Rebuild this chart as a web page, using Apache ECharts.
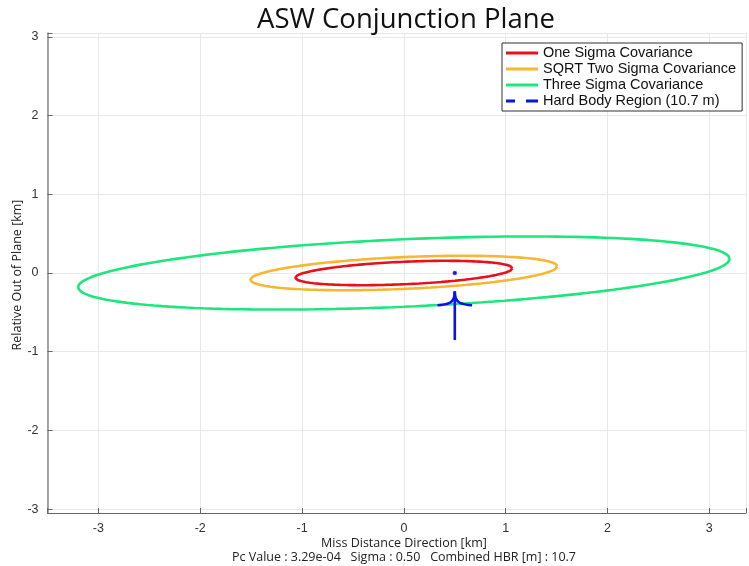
<!DOCTYPE html>
<html>
<head>
<meta charset="utf-8">
<script src="https://cdn.jsdelivr.net/npm/echarts@6/dist/echarts.min.js"></script>
<style>
html,body{margin:0;padding:0;background:#fff;}
#chart{width:749px;height:566px;}
</style>
</head>
<body>
<div id="chart"></div>
<script>
// ---- data ----
const seriesNames = ['One Sigma Covariance', 'SQRT Two Sigma Covariance', 'Three Sigma Covariance', 'Hard Body Region (10.7 m)'];
const sigmaScales = [1, 1.4142, 3];              // one, sqrt(2), three sigma
const covarianceKm2 = [1.137, 0.064, 0.024];      // [Cxx, Cxy, Cyy] in km^2
const ellipseCenterKm = [0, 0];
const hbrCenterKm = [0.5, 0];
const hbrRadiusKm = [0.0107];
const arrowShaftX = [0.5, 0.5];
const arrowShaftY = [-0.85, -0.235];
const arrowHeadLeftX = [0.5, 0.49, 0.45, 0.33];
const arrowHeadLeftY = [-0.235, -0.32, -0.38, -0.41];
const arrowHeadRightX = [0.5, 0.51, 0.55, 0.67];
const arrowHeadRightY = [-0.235, -0.32, -0.38, -0.41];
const xTickLabels = [-3, -2, -1, 0, 1, 2, 3];
const yTickLabels = [-3, -2, -1, 0, 1, 2, 3];
const colors = ['#e8111b', '#f7b733', '#1fe67c', '#0a14e6'];
const titleText = 'ASW Conjunction Plane';
const xName = 'Miss Distance Direction [km]';
const yName = 'Relative Out of Plane [km]';
const footer = 'Pc Value : 3.29e-04   Sigma : 0.50   Combined HBR [m] : 10.7';

// ---- build ellipse outlines from covariance ----
function ellipse(scale) {
  const l11 = Math.sqrt(covarianceKm2[0]);
  const l21 = covarianceKm2[1] / l11;
  const l22 = Math.sqrt(covarianceKm2[2] - l21 * l21);
  const pts = [];
  for (let i = 0; i <= 180; i++) {
    const t = i / 180 * 2 * Math.PI;
    pts.push([ellipseCenterKm[0] + scale * l11 * Math.cos(t),
              ellipseCenterKm[1] + scale * (l21 * Math.cos(t) + l22 * Math.sin(t))]);
  }
  return pts;
}
function circle(c, r) {
  const pts = [];
  for (let i = 0; i <= 36; i++) {
    const t = i / 36 * 2 * Math.PI;
    pts.push([c[0] + r * Math.cos(t), c[1] + r * Math.sin(t)]);
  }
  return pts;
}
const zip = (a, b) => a.map((v, i) => [v, b[i]]);

const chart = echarts.init(document.getElementById('chart'), null, {renderer: 'canvas'});
const intLabel = v => (Math.abs(v - Math.round(v)) < 1e-9 && xTickLabels.includes(Math.round(v))) ? String(Math.round(v)) : '';

const series = sigmaScales.map((s, i) => ({
  name: seriesNames[i], type: 'line', data: ellipse(s), showSymbol: false, symbol: 'none',
  lineStyle: {color: colors[i], width: 2.6}, itemStyle: {color: colors[i]}, silent: true, animation: false, z: 3
}));
series.push({
  name: seriesNames[3], type: 'line', data: circle(hbrCenterKm, hbrRadiusKm[0]), symbol: 'none',
  lineStyle: {color: colors[3], width: 2}, itemStyle: {color: colors[3]}, animation: false, z: 4
});
series.push({
  type: 'scatter', data: [hbrCenterKm], symbol: 'circle', symbolSize: 4.5,
  itemStyle: {color: colors[3]}, animation: false, z: 5, silent: true
});
const arrowStyle = {color: colors[3], width: 2.6};
[[arrowShaftX, arrowShaftY, false], [arrowHeadLeftX, arrowHeadLeftY, true], [arrowHeadRightX, arrowHeadRightY, true]].forEach(([xs, ys, sm]) => {
  series.push({type: 'line', data: zip(xs, ys), symbol: 'none', smooth: sm ? 0.4 : false, lineStyle: arrowStyle, animation: false, z: 4});
});

const solidIcon = 'path://M0,0H32V3H0Z';
const dashIcon = 'path://M0,0H9V3H0Z M20,0H32V3H20Z';
const nameFont = {fontFamily: 'Open Sans', fontSize: 12.5, fill: '#222', textAlign: 'center', textVerticalAlign: 'middle'};

chart.setOption({
  animation: false,
  title: {text: titleText, left: 401, top: 1, textAlign: 'center',
    textStyle: {fontFamily: 'Open Sans', fontSize: 27.5, fontWeight: 'normal', color: '#111'}},
  legend: {
    data: seriesNames.map((n, i) => ({name: n, icon: i === 3 ? dashIcon : solidIcon})),
    orient: 'vertical', left: 502, top: 43,
    itemWidth: 32, itemHeight: 3, itemGap: 0, padding: [2, 6, 2, 4],
    borderColor: '#333', borderWidth: 1, backgroundColor: '#fff',
    textStyle: {fontFamily: 'Liberation Sans', fontSize: 14.5, color: '#111', lineHeight: 16},
    selectedMode: false
  },
  grid: {left: 47.5, top: 33, right: 0, bottom: 53, containLabel: false},
  xAxis: {
    type: 'value', min: -3.5, max: 3.36,
    axisLine: {show: true, onZero: false, lineStyle: {color: '#666', width: 1.2}},
    axisTick: {show: true, inside: true, length: 5, lineStyle: {color: '#666'}},
    axisLabel: {formatter: intLabel, margin: 9, fontFamily: 'Liberation Sans', fontSize: 12.5, color: '#333'},
    splitLine: {show: true, lineStyle: {color: '#e8e8e8', width: 1}}
  },
  yAxis: {
    type: 'value', min: -3.05, max: 3.05,
    axisLine: {show: true, onZero: false, lineStyle: {color: '#888', width: 1.5}},
    axisTick: {show: true, inside: true, length: 5, lineStyle: {color: '#666'}},
    axisLabel: {formatter: intLabel, margin: 9, fontFamily: 'Liberation Sans', fontSize: 12.5, color: '#333'},
    splitLine: {show: true, lineStyle: {color: '#e8e8e8', width: 1}}
  },
  graphic: [
    {type: 'text', x: 404, y: 543, style: Object.assign({text: xName}, nameFont)},
    {type: 'text', x: 17, y: 275, rotation: Math.PI / 2, style: Object.assign({text: yName}, nameFont)},
    {type: 'text', x: 404, y: 557, style: Object.assign({text: footer}, nameFont)}
  ],
  series: series
});
</script>
</body>
</html>
